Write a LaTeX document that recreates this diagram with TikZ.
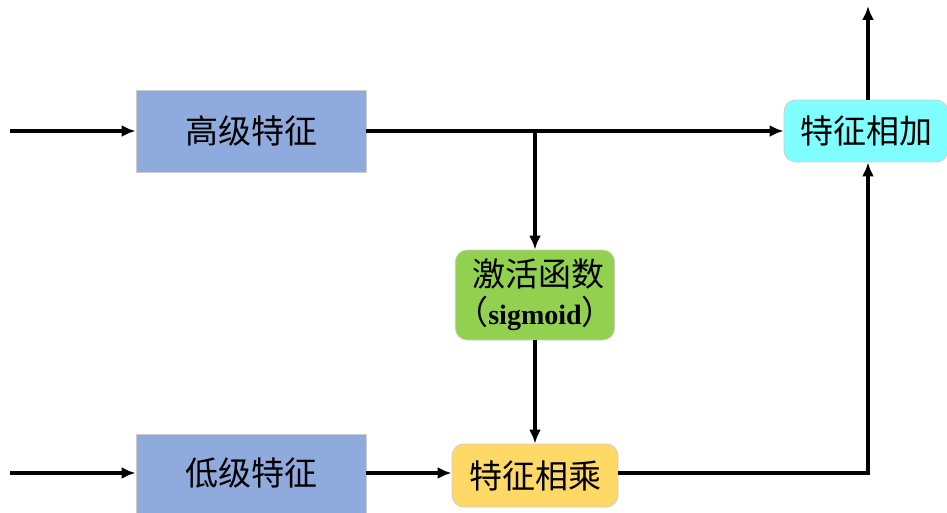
\documentclass[tikz,border=0pt]{standalone}
\usepackage{fontspec}
\setmainfont{Liberation Serif}
\newfontfamily\cjk{Noto Sans CJK SC}
\usetikzlibrary{arrows.meta}
\definecolor{blueb}{HTML}{8FAADC}
\definecolor{greenb}{HTML}{92D050}
\definecolor{yellowb}{HTML}{FFD966}
\definecolor{cyanb}{HTML}{7FFFFF}
\newcommand{\bigcjk}{\cjk\fontsize{33}{40}\selectfont}
\begin{document}
\begin{tikzpicture}[x=1pt,y=-1pt,
  blk/.style={draw=gray!40,line width=0.8pt,inner sep=0pt,font=\bigcjk},
  rblk/.style={blk,rounded corners=12pt},
  arr/.style={line width=3.2pt,-{Latex[length=14pt,width=12pt]}}]
\useasboundingbox (0,0) rectangle (947,513);
\node[blk,fill=blueb,minimum width=230pt,minimum height=82pt] (hi) at (251,131) {高级特征};
\node[blk,fill=blueb,minimum width=230pt,minimum height=82pt,anchor=north] (lo) at (251,434) {};
\node[font=\bigcjk] at (251,473) {低级特征};
\node[rblk,fill=greenb,minimum width=158pt,minimum height=90pt,align=center] (act) at (535,295)
  {\hspace*{6pt}激活函数\\[-2pt]（{\rmfamily\bfseries\fontsize{28}{40}\selectfont sigmoid}）};
\node[rblk,fill=yellowb,minimum width=166pt,minimum height=63pt] (mul) at (535,475.5) {特征相乘};
\node[rblk,fill=cyanb,minimum width=164pt,minimum height=62pt] (add) at (866,131) {特征相加};
\coordinate (inhi) at (10,131);
\coordinate (inlo) at (10,473);
\coordinate (br) at (535,131);
\coordinate (cr) at (868,473);
\coordinate (out) at (868,6);
\draw[arr] (inhi) -- (hi.west);
\draw[arr] (inlo) -- (lo.west |- inlo);
\draw[arr] (hi.east) -- (add.west);
\draw[arr] (br) -- (act.north);
\draw[arr] (act.south) -- (mul.north);
\draw[arr] (lo.east |- inlo) -- (mul.west |- inlo);
\draw[arr] (mul.east |- inlo) -- (cr) -- (add.south -| cr);
\draw[arr] (add.north -| out) -- (out);
\end{tikzpicture}
\end{document}
